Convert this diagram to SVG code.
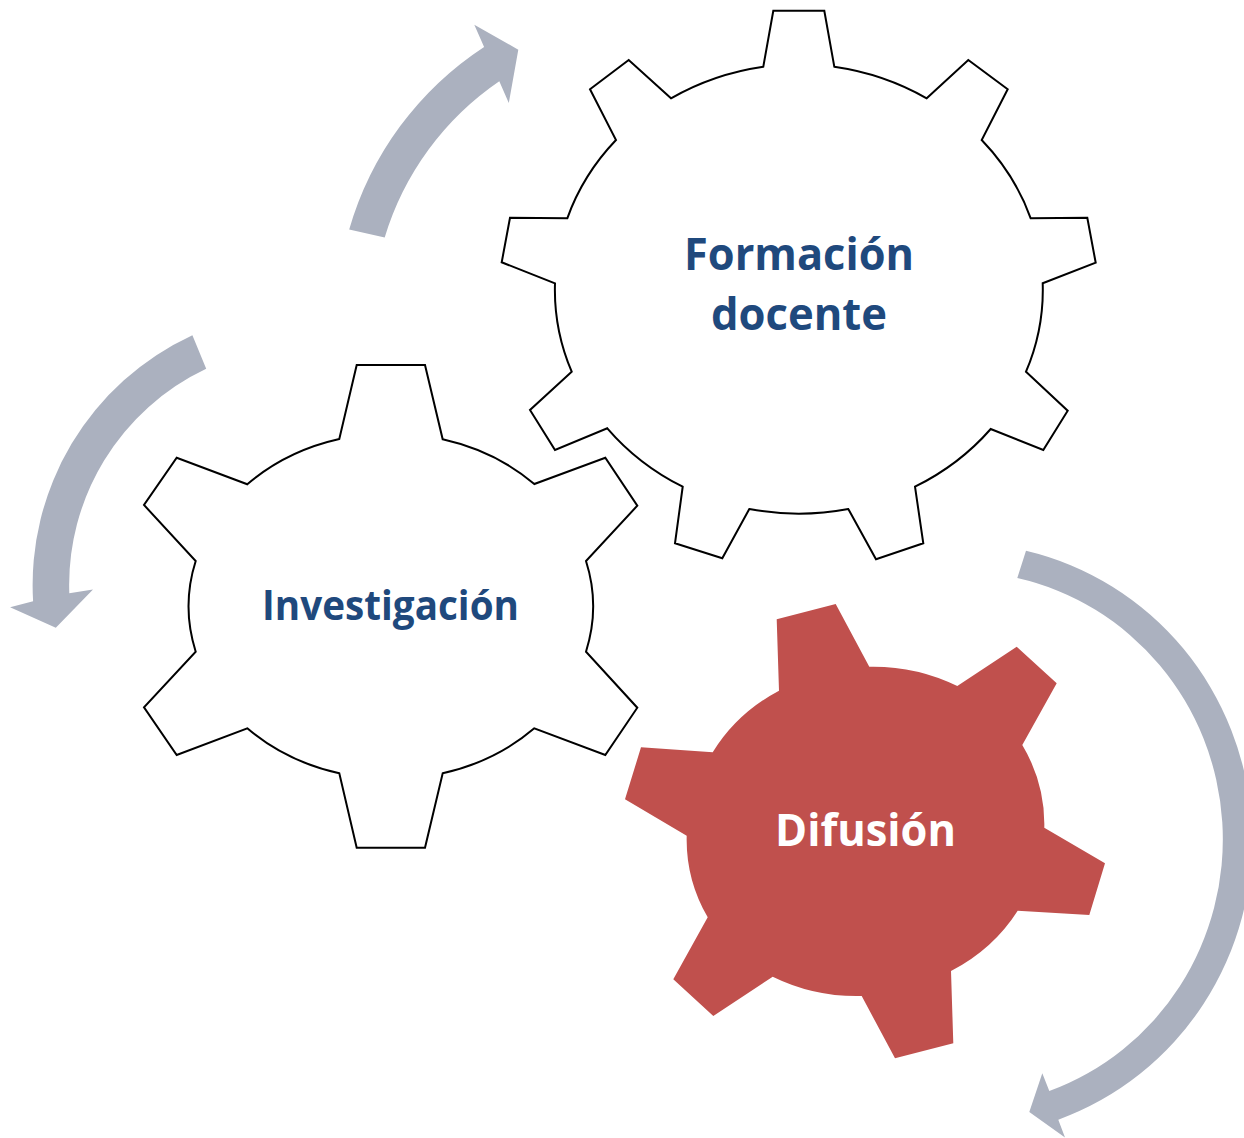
<svg xmlns="http://www.w3.org/2000/svg" width="1244" height="1138" viewBox="0 0 1244 1138">
<style>
.gear{fill:#ffffff;stroke:#000000;stroke-width:2;stroke-linejoin:miter}
.gear-red{fill:#C0504D;stroke:none}
.arrow{fill:#ABB1BF;stroke:none}
.lbl{font-family:"Open Sans","Noto Sans","Liberation Sans",sans-serif;font-weight:bold;text-anchor:middle}
.blue{fill:#1F497D}
.white{fill:#ffffff}
</style>
<rect width="1244" height="1138" fill="#ffffff"/>
<g id="connectors">
  <path id="arrow-investigacion-formacion" class="arrow" d="M 349.2 229.6 A 326 326 0 0 1 484.1 46.9 L 474.3 24.7 L 518.3 49.7 L 508.8 103 L 499.3 81.3 A 291 291 0 0 0 384.7 237.5 Z"/>
  <path id="arrow-to-investigacion" class="arrow" d="M 192.4 335.2 A 275 275 0 0 0 33.1 601.2 L 10.1 607.2 L 55.8 627.8 L 93 589.4 L 69.3 593.3 A 239 239 0 0 1 206.2 368.8 Z"/>
  <path id="arrow-formacion-difusion" class="arrow" d="M 1026 550.7 A 292 297 0 0 1 1058.3 1119.7 L 1065 1137.6 L 1029.3 1112.1 L 1042.3 1073.2 L 1049.3 1091.1 A 262 267.5 0 0 0 1017.3 578.1 Z"/>
</g>
<g id="node-formacion">
  <path class="gear" d="M 773.3 10.7 L 824.3 10.7 L 834.3 66.7 A 246 225 0 0 1 926.7 98.3 L 968.3 60 L 1007.7 89.3 L 981.7 140 A 246 225 0 0 1 1030.7 218.3 L 1087.3 217.7 L 1095.7 262.7 L 1042.7 283.3 A 246 225 0 0 1 1026 371.7 L 1067.7 410.7 L 1043.3 450 L 990.7 429 A 246 225 0 0 1 915 486.7 L 923.3 543.3 L 876 559.3 L 848.3 509 A 246 225 0 0 1 749.3 509 L 722.3 558.3 L 675 543.3 L 682.7 486.7 A 246 225 0 0 1 607.3 428.3 L 555 450 L 530 410 L 571.7 371.7 A 246 225 0 0 1 555 283.3 L 501.7 262.3 L 510 217.7 L 567.3 218.3 A 246 225 0 0 1 616 140 L 590 89.3 L 628.7 60 L 671 98.3 A 246 225 0 0 1 763.3 66.7 Z"/>
  <text class="lbl blue" x="799" y="269.5" font-size="45" textLength="230" lengthAdjust="spacingAndGlyphs">Formación</text>
  <text class="lbl blue" x="799" y="329.5" font-size="45" textLength="176" lengthAdjust="spacingAndGlyphs">docente</text>
</g>
<g id="node-investigacion">
  <path class="gear" d="M 356.7 365 L 425 365 L 442.7 439.3 A 202 173 0 0 1 534.3 484 L 605.3 457.7 L 637.3 505.7 L 586 561 A 202 173 0 0 1 586 651.7 L 637.3 707.7 L 605.3 755 L 534.3 728.3 A 202 173 0 0 1 442.7 773.3 L 425 847.7 L 356.7 847.7 L 339.3 773.3 A 202 173 0 0 1 247.3 728.3 L 176.7 755 L 144 707.3 L 195.7 651.7 A 202 173 0 0 1 195.7 561 L 144 505 L 176.7 457.7 L 247.3 484.3 A 202 173 0 0 1 339.3 439 Z"/>
  <text class="lbl blue" x="390.5" y="619.5" font-size="42" textLength="257" lengthAdjust="spacingAndGlyphs">Investigación</text>
</g>
<g id="node-difusion">
  <path class="gear-red" d="M 776.7 619.3 L 835.7 604 L 869.3 666.7 A 179 165 0 0 1 957.3 686 L 1016.7 646.7 L 1056.7 683.3 L 1022.3 745 A 179 165 0 0 1 1044.3 827.7 L 1105 863.3 L 1089.3 915 L 1017.7 910.7 A 179 165 0 0 1 951 971 L 953.3 1043.3 L 895 1058.3 L 861.7 996 A 179 165 0 0 1 772.7 976.7 L 713.3 1016 L 673.3 979.3 L 707.7 917.3 A 179 165 0 0 1 686.7 835.7 L 625 799.3 L 641 747.3 L 712.7 752.3 A 179 165 0 0 1 779 690.7 Z"/>
  <text class="lbl white" x="865.5" y="846" font-size="45" textLength="181" lengthAdjust="spacingAndGlyphs">Difusión</text>
</g>
</svg>
